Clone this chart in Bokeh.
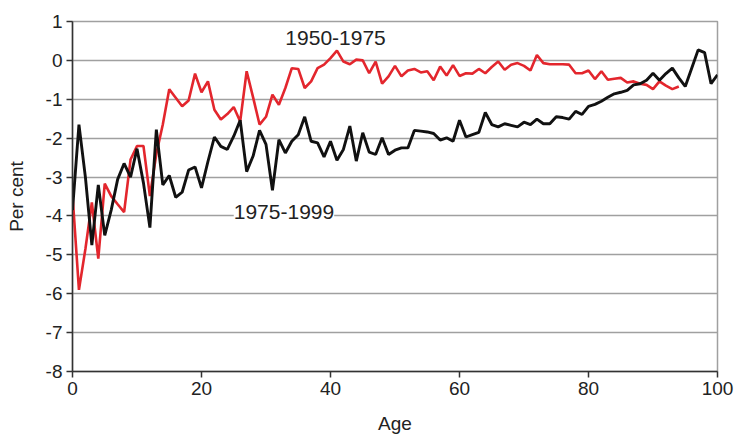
from bokeh.plotting import figure
from bokeh.models import Range1d, FixedTicker, Label
from bokeh.embed import file_html
from bokeh.resources import INLINE

# ---- data ----
ages_1975 = list(range(0, 101))
vals_1975 = [
    -3.85, -1.65, -3.0, -4.75, -3.2, -4.5, -3.85, -3.06, -2.65, -3.0,
    -2.27, -3.15, -4.3, -1.78, -3.2, -2.96, -3.52, -3.39, -2.82, -2.74,
    -3.28, -2.6, -1.97, -2.21, -2.29, -1.95, -1.54, -2.86, -2.46, -1.8,
    -2.16, -3.34, -2.04, -2.38, -2.08, -1.91, -1.45, -2.08, -2.12, -2.48,
    -2.08, -2.57, -2.29, -1.69, -2.59, -1.86, -2.36, -2.42, -1.99, -2.42,
    -2.31, -2.25, -2.25, -1.8, -1.82, -1.84, -1.88, -2.05, -1.99, -2.08,
    -1.54, -1.97, -1.91, -1.85, -1.34, -1.65, -1.71, -1.63, -1.67, -1.71,
    -1.59, -1.65, -1.51, -1.63, -1.63, -1.45, -1.47, -1.51, -1.31, -1.39,
    -1.18, -1.13, -1.05, -0.95, -0.86, -0.82, -0.77, -0.63, -0.6, -0.51,
    -0.33, -0.51, -0.34, -0.2, -0.45, -0.67, -0.2, 0.27, 0.2, -0.6,
    -0.37,
]
ages_1950 = list(range(0, 95))
vals_1950 = [
    -3.45, -5.9, -4.85, -3.65, -5.1, -3.17, -3.49, -3.7, -3.9, -2.55,
    -2.2, -2.2, -3.49, -2.4, -1.65, -0.74, -0.96, -1.18, -1.03, -0.34,
    -0.82, -0.54, -1.27, -1.52, -1.38, -1.2, -1.57, -0.28, -0.95, -1.65,
    -1.45, -0.88, -1.14, -0.71, -0.2, -0.22, -0.71, -0.54, -0.2, -0.11,
    0.06, 0.25, -0.03, -0.1, 0.02, 0.0, -0.33, -0.03, -0.6, -0.41,
    -0.14, -0.41, -0.26, -0.22, -0.31, -0.28, -0.51, -0.16, -0.39, -0.12,
    -0.4, -0.33, -0.34, -0.22, -0.33, -0.17, -0.03, -0.24, -0.11, -0.07,
    -0.14, -0.26, 0.14, -0.07, -0.1, -0.1, -0.1, -0.11, -0.33, -0.33,
    -0.26, -0.48, -0.28, -0.5, -0.47, -0.45, -0.57, -0.54, -0.6, -0.63,
    -0.74, -0.54, -0.65, -0.74, -0.67,
]
x_ticks = [0, 20, 40, 60, 80, 100]
y_ticks = [1, 0, -1, -2, -3, -4, -5, -6, -7, -8]
label_1950 = "1950-1975"
label_1975 = "1975-1999"

FONT = "Liberation Sans"

p = figure(width=736, height=436, output_backend="svg", toolbar_location=None,
           x_range=Range1d(0, 100), y_range=Range1d(-8, 1),
           min_border_left=72, min_border_right=19, min_border_top=21,
           min_border_bottom=64)
p.background_fill_color = "white"
p.border_fill_color = "white"
p.outline_line_color = "#a0a0a0"
p.outline_line_width = 1.5

p.xgrid.grid_line_color = None
p.ygrid.grid_line_color = "#a0a0a0"
p.ygrid.grid_line_width = 1.5
p.ygrid.ticker = FixedTicker(ticks=y_ticks)

for ax in (p.xaxis[0], p.yaxis[0]):
    ax.axis_line_color = "#333333"
    ax.axis_line_width = 1.5
    ax.major_tick_line_color = "#333333"
    ax.major_tick_line_width = 1.5
    ax.major_tick_out = 6
    ax.major_tick_in = 0
    ax.minor_tick_line_color = None
    ax.major_label_text_font = FONT
    ax.major_label_text_font_size = "19px"
    ax.major_label_text_color = "#222222"
    ax.axis_label_text_font = FONT
    ax.axis_label_text_font_size = "19px"
    ax.axis_label_text_font_style = "normal"
    ax.axis_label_text_color = "#222222"

p.xaxis.ticker = FixedTicker(ticks=x_ticks)
p.yaxis.ticker = FixedTicker(ticks=y_ticks)
p.yaxis.major_label_overrides = {t: str(t) for t in y_ticks}
p.xaxis.axis_label = "Age"
p.yaxis.axis_label = "Per cent"
p.xaxis.major_label_standoff = 4
p.yaxis.major_label_standoff = 4
p.xaxis.axis_label_standoff = 15
p.yaxis.axis_label_standoff = 16

p.line(ages_1950, vals_1950, line_color="#e3262d", line_width=2.6)
p.line(ages_1975, vals_1975, line_color="#111111", line_width=2.9)

p.add_layout(Label(x=33, y=0.58, text=label_1950, text_font=FONT,
                   text_font_size="21px", text_color="#222222",
                   text_baseline="middle", text_align="left"))
p.add_layout(Label(x=25.0, y=-3.9, text=label_1975, text_font=FONT,
                   text_font_size="21px", text_color="#222222",
                   text_baseline="middle", text_align="left",
                   background_fill_color="white"))

open("out.html", "w").write(file_html(p, INLINE))
